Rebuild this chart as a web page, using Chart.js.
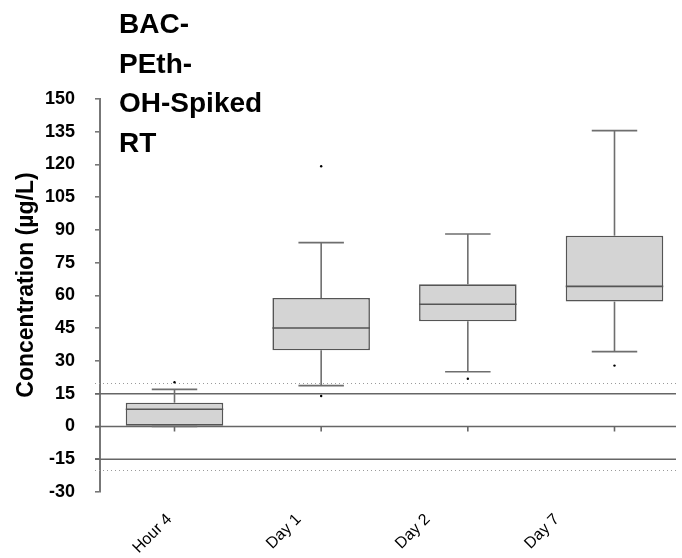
<!DOCTYPE html>
<html>
<head>
<meta charset="utf-8">
<script src="https://cdn.jsdelivr.net/npm/chart.js@4/dist/chart.umd.min.js"></script>
<style>
  html, body { margin: 0; padding: 0; background: #fff; }
  #wrap { width: 682px; height: 558px; position: relative; }
</style>
</head>
<body>
<div id="wrap"><canvas id="c" width="682" height="558"></canvas></div>
<script>
// ---- data ----
const categories = ['Hour 4', 'Day 1', 'Day 2', 'Day 7'];
const whiskerLow  = [0.0, 18.7, 25.1, 34.3];
const q1          = [0.0, 34.9, 48.2, 57.2];
const median      = [7.9, 45.1, 56.0, 64.2];
const q3          = [10.9, 58.9, 65.1, 87.4];
const whiskerHigh = [17.0, 84.2, 88.2, 135.5];
const outlierCategory = [0, 1, 1, 2, 3];
const outlierValue    = [20.3, 119.2, 14.0, 21.9, 27.9];
const yTickMin = -30, yTickMax = 150, yTickStep = 15;
const solidRefLines  = [15, 0, -15];
const dottedRefLines = [20, -20];
const titleLines = ['BAC-', 'PEth-', 'OH-Spiked', 'RT'];
const yAxisTitle = 'Concentration (µg/L)';

const boxData = categories.map((c, i) => ({ x: i, y: [q1[i], q3[i]] }));
const outlierData = outlierValue.map((v, k) => ({ x: outlierCategory[k], y: v }));
const categoryTicks = s => { s.ticks = categories.map((c, i) => ({ value: i })); };

const boxPlugin = {
  id: 'boxExtras',
  beforeDatasetsDraw(chart) {
    const ctx = chart.ctx, ys = chart.scales.y, xs = chart.scales.x, a = chart.chartArea;
    ctx.save();
    // dotted reference lines
    ctx.strokeStyle = '#9a9a9a'; ctx.lineWidth = 1; ctx.setLineDash([1, 3]);
    dottedRefLines.forEach(v => {
      const y = Math.round(ys.getPixelForValue(v)) + 0.5;
      ctx.beginPath(); ctx.moveTo(a.left - 5, y); ctx.lineTo(a.right - 2, y); ctx.stroke();
    });
    ctx.setLineDash([]);
    ctx.strokeStyle = '#666'; ctx.lineWidth = 1.6;
    solidRefLines.forEach(v => {
      const y = ys.getPixelForValue(v);
      ctx.beginPath(); ctx.moveTo(a.left - 5, y); ctx.lineTo(a.right - 2, y); ctx.stroke();
    });
    // x-axis tick marks on the zero line
    const y0 = ys.getPixelForValue(0);
    categories.forEach((c, i) => {
      const x = xs.getPixelForValue(i);
      ctx.beginPath(); ctx.moveTo(x, y0); ctx.lineTo(x, y0 + 5); ctx.stroke();
    });
    // whiskers and caps
    ctx.strokeStyle = '#6e6e6e'; ctx.lineWidth = 1.6;
    const capHalf = 0.155;
    categories.forEach((c, i) => {
      const x = xs.getPixelForValue(i);
      const xl = xs.getPixelForValue(i - capHalf), xr = xs.getPixelForValue(i + capHalf);
      [[q3[i], whiskerHigh[i]], [q1[i], whiskerLow[i]]].forEach(([from, to]) => {
        const y1 = ys.getPixelForValue(from), y2 = ys.getPixelForValue(to);
        ctx.beginPath(); ctx.moveTo(x, y1); ctx.lineTo(x, y2); ctx.stroke();
        ctx.beginPath(); ctx.moveTo(xl, y2); ctx.lineTo(xr, y2); ctx.stroke();
      });
    });
    ctx.restore();
  },
  afterDatasetsDraw(chart) {
    const ctx = chart.ctx, ys = chart.scales.y;
    const meta = chart.getDatasetMeta(0);
    ctx.save();
    ctx.strokeStyle = '#555'; ctx.lineWidth = 1.6;
    meta.data.forEach((bar, i) => {
      const y = ys.getPixelForValue(median[i]);
      ctx.beginPath(); ctx.moveTo(bar.x - bar.width / 2, y); ctx.lineTo(bar.x + bar.width / 2, y); ctx.stroke();
    });
    ctx.restore();
  },
  afterDraw(chart) {
    const ctx = chart.ctx;
    ctx.save();
    ctx.fillStyle = '#000';
    ctx.font = 'bold 28px "Liberation Sans", Arial, sans-serif';
    ctx.textAlign = 'left'; ctx.textBaseline = 'alphabetic';
    titleLines.forEach((t, k) => ctx.fillText(t, 119, 33 + k * 39.7));
    ctx.translate(27, 285);
    ctx.rotate(-Math.PI / 2);
    ctx.font = 'bold 23px "Liberation Sans", Arial, sans-serif';
    ctx.textAlign = 'center'; ctx.textBaseline = 'middle';
    ctx.fillText(yAxisTitle, 0, 0);
    ctx.restore();
  }
};

new Chart(document.getElementById('c'), {
  type: 'bar',
  data: {
    datasets: [
      {
        type: 'bar',
        data: boxData,
        backgroundColor: '#d4d4d4',
        borderColor: '#555',
        borderWidth: 1.6,
        borderSkipped: false,
        categoryPercentage: 0.665,
        barPercentage: 1.0,
        xAxisID: 'x', yAxisID: 'y'
      },
      {
        type: 'scatter',
        data: outlierData,
        backgroundColor: '#000',
        borderColor: '#000',
        pointRadius: 1.2,
        pointBorderWidth: 0,
        xAxisID: 'x', yAxisID: 'y'
      }
    ]
  },
  options: {
    responsive: false,
    animation: false,
    events: [],
    layout: { padding: { top: 99, right: 0, bottom: 0, left: 0 } },
    plugins: { legend: { display: false }, tooltip: { enabled: false }, title: { display: false } },
    scales: {
      x: {
        type: 'linear', display: false, min: -0.508, max: 3.433, offset: false,
        afterBuildTicks: categoryTicks
      },
      xl: {
        type: 'linear', position: 'bottom', min: -0.538, max: 3.938, offset: false,
        afterBuildTicks: categoryTicks,
        afterFit: s => { s.height = 66; s.paddingLeft = 0; s.paddingRight = 0; },
        grid: { display: false, drawTicks: false, offset: false },
        border: { display: false },
        ticks: {
          callback: v => categories[v],
          minRotation: 45, maxRotation: 45, autoSkip: false, padding: 18,
          color: '#000', font: { family: '"Liberation Sans", Arial, sans-serif', size: 16 }
        }
      },
      y: {
        type: 'linear', position: 'left', min: yTickMin, max: yTickMax,
        afterFit: s => { s.width = 100; },
        grid: { drawOnChartArea: false, drawTicks: true, tickLength: 5, color: '#777', lineWidth: 1.6 },
        border: { display: true, color: '#777', width: 2 },
        ticks: {
          stepSize: yTickStep, padding: 20, color: '#000',
          font: { family: '"Liberation Sans", Arial, sans-serif', size: 18, weight: 'bold' }
        }
      }
    }
  },
  plugins: [boxPlugin]
});
</script>
</body>
</html>
